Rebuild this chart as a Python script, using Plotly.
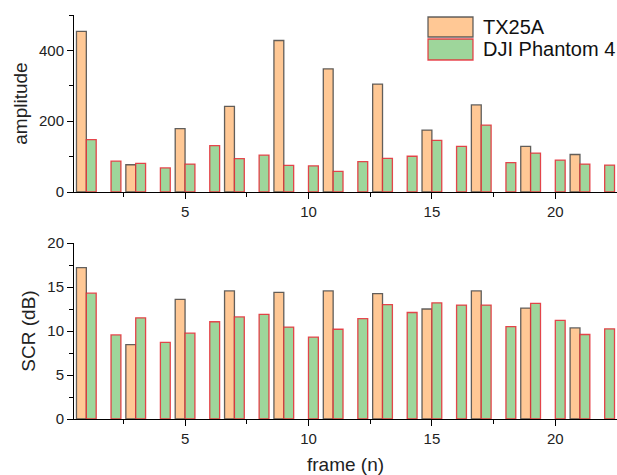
import plotly.graph_objects as go
from plotly.subplots import make_subplots

frames = list(range(1, 23))
tx25a_amp = [454, None, 77, None, 179, None, 242, None, 428, None, 348, None,
             305, None, 175, None, 246, None, 129, None, 106, None]
dji_amp = [148, 87, 81, 68, 79, 131, 94, 104, 75, 74, 58, 86,
           95, 101, 146, 129, 189, 83, 110, 90, 79, 76]
tx25a_scr = [17.2, None, 8.45, None, 13.6, None, 14.55, None, 14.4, None, 14.55, None,
             14.25, None, 12.5, None, 14.55, None, 12.6, None, 10.35, None]
dji_scr = [14.3, 9.55, 11.5, 8.7, 9.75, 11.05, 11.6, 11.9, 10.45, 9.3, 10.2, 11.4,
           13.0, 12.1, 13.2, 12.95, 12.95, 10.5, 13.15, 11.2, 9.6, 10.25]
names = ["TX25A", "DJI Phantom 4"]

fill_o = "#FFC895"
fill_g = "#9ED69B"
edge_o = "rgba(70,70,70,0.85)"
edge_g = "rgba(230,40,50,0.85)"
FONT = "Liberation Sans, Arial, sans-serif"

fig = make_subplots(rows=2, cols=1, shared_xaxes=False, vertical_spacing=0.126)

for row, (a, b) in enumerate([(tx25a_amp, dji_amp), (tx25a_scr, dji_scr)], start=1):
    fig.add_trace(go.Bar(x=frames, y=a, name=names[0], marker=dict(color=fill_o, line=dict(color=edge_o, width=1.3)),
                         showlegend=False), row=row, col=1)
    fig.add_trace(go.Bar(x=frames, y=b, name=names[1], marker=dict(color=fill_g, line=dict(color=edge_g, width=1.3)),
                         showlegend=False), row=row, col=1)

H_PLOT = 404
def py(v):
    return (419 - v) / H_PLOT
def px(v):
    return (v - 74) / 543

fig.update_layout(
    width=617, height=475,
    margin=dict(l=74, r=0, t=15, b=56),
    paper_bgcolor="white", plot_bgcolor="white",
    barmode="group", bargap=0.2, bargroupgap=0,
    font=dict(family=FONT, size=15, color="#222"),
)
fig.update_yaxes(domain=[py(192), 1], row=1, col=1)
fig.update_yaxes(domain=[0, py(243)], row=2, col=1)

axis_common = dict(showline=True, linecolor="black", linewidth=1, showgrid=False, zeroline=False,
                   ticks="outside", ticklen=6, tickcolor="black", tickwidth=1,
                   tickfont=dict(size=15, family=FONT, color="#222"),
                   minor=dict(ticks="outside", ticklen=4, tickcolor="black", tickwidth=1, showgrid=False))
for r in (1, 2):
    fig.update_xaxes(range=[0.5, 22.5], tickvals=[5, 10, 15, 20], minor_tickvals=[2.5, 7.5, 12.5, 17.5, 22.5],
                     **axis_common, row=r, col=1)
fig.update_xaxes(title=dict(text="frame (n)", font=dict(size=19, family=FONT, color="#222"), standoff=14), row=2, col=1)
fig.update_yaxes(range=[0, 500], tickvals=[0, 200, 400], minor_tickvals=[100, 300, 500],
                 title=dict(text="amplitude", font=dict(size=19, family=FONT, color="#222"), standoff=6),
                 **axis_common, row=1, col=1)
fig.update_yaxes(range=[0, 20], tickvals=[0, 5, 10, 15, 20], minor_tickvals=[2.5, 7.5, 12.5, 17.5],
                 title=dict(text="SCR (dB)", font=dict(size=19, family=FONT, color="#222"), standoff=6),
                 **axis_common, row=2, col=1)

# custom legend
legend_items = [(names[0], fill_o, edge_o, 17, 37), (names[1], fill_g, edge_g, 39, 60)]
for name, fc, ec, y0, y1 in legend_items:
    fig.add_shape(type="rect", xref="paper", yref="paper", x0=px(428), x1=px(473), y0=py(y1), y1=py(y0),
                  fillcolor=fc, line=dict(color=ec, width=1.3))
    fig.add_annotation(xref="paper", yref="paper", x=px(481), y=py((y0 + y1) / 2), text=name,
                       showarrow=False, xanchor="left", yanchor="middle",
                       font=dict(size=20, family=FONT, color="#111"))

fig.write_html("out.html")
